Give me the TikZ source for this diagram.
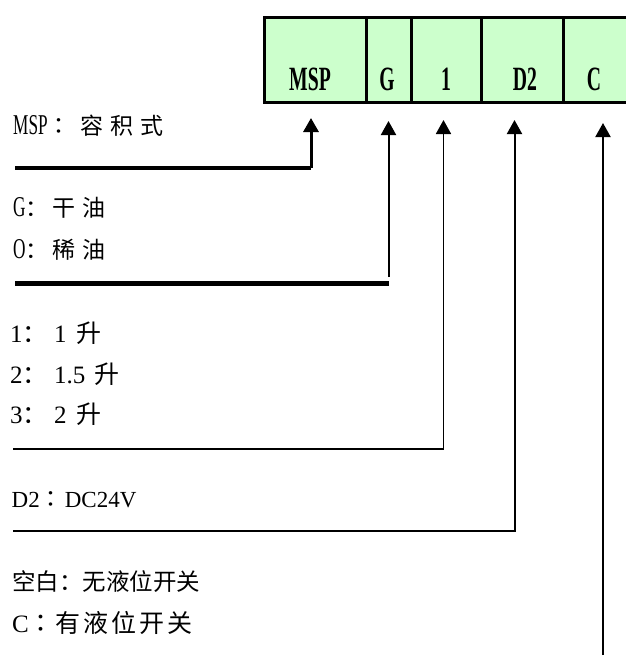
\documentclass[tikz,border=0pt]{standalone}
\usepackage{fontspec}
\usepackage{graphicx}
\setmainfont{Liberation Serif}
\newfontfamily\cjk{Noto Sans CJK SC}
\newfontfamily\cjktc{Noto Sans CJK TC}
\newfontfamily\cjksp[LetterSpace=30]{Noto Sans CJK SC}
\newfontfamily\cjkc[LetterSpace=12]{Noto Sans CJK SC}
\usetikzlibrary{arrows.meta}
\definecolor{boxgreen}{HTML}{CCFFCC}
\newcommand{\narrowlat}[1]{\scalebox{0.6}[1]{\fontsize{28.7}{32}\selectfont #1}}
\newcommand{\boxtxt}[1]{\scalebox{0.58}[1]{\bfseries\fontsize{34}{37}\selectfont #1}}
\begin{document}
\begin{tikzpicture}[x=1pt,y=-1pt,
  cell/.style={draw=black,line width=2.5pt,fill=boxgreen,minimum height=85pt,inner sep=0pt,anchor=north west},
  celltext/.style={anchor=base,inner sep=0pt},
  txt/.style={anchor=base west,inner sep=0pt},
  tip/.style={-{Triangle[length=14pt,width=15pt]}},
  heavy/.style={line width=4.5pt},
  thin/.style={line width=1.8pt}]
\useasboundingbox (0,0) rectangle (626,657);
% code box
\node[cell,minimum width=102pt] (cm) at (263,16) {};
\node[cell,minimum width=45pt] (cg) at (365,16) {};
\node[cell,minimum width=70pt] (c1) at (410,16) {};
\node[cell,minimum width=82pt] (cd) at (480,16) {};
\node[cell,minimum width=80pt] (cc) at (562,16) {};
\node[celltext] (tm) at (310,90) {\boxtxt{MSP}};
\node[celltext] (tg) at (387,90) {\boxtxt{G}};
\node[celltext] (t1) at (446,90) {\boxtxt{1}};
\node[celltext] (td) at (525,90) {\boxtxt{D2}};
\node[celltext] (tc) at (594,90) {\boxtxt{C}};
% texts
\node[txt] (lm) at (13,134) {\narrowlat{MSP}{\fontsize{23}{26}\selectfont{\cjktc ：}\hspace{10pt}{\cjksp 容积式}}};
\node[txt] (lg) at (13,216) {\narrowlat{G}{\cjksp\fontsize{23}{26}\selectfont ：\hspace{4pt}干油}};
\node[txt] (lo) at (13,258) {\narrowlat{O}{\cjksp\fontsize{23}{26}\selectfont ：\hspace{4pt}稀油}};
\node[txt] (l1) at (10,342) {\fontsize{25}{28}\selectfont 1{\cjk ：}\hspace{6.5pt}1\hspace{9.5pt}{\cjk 升}};
\node[txt] (l2) at (10,383) {\fontsize{25}{28}\selectfont 2{\cjk ：}\hspace{6.5pt}1.5\hspace{9.5pt}{\cjk 升}};
\node[txt] (l3) at (10,423) {\fontsize{25}{28}\selectfont 3{\cjk ：}\hspace{6.5pt}2\hspace{9.5pt}{\cjk 升}};
\node[txt] (ld) at (11.5,507) {\fontsize{23}{26}\selectfont D2{\cjktc ：}\hspace{2pt}DC24V};
\node[txt] (lk) at (12,590) {\cjk\fontsize{23.5}{26}\selectfont 空白：无液位开关};
\node[txt] (lc) at (12,632) {\fontsize{25}{28}\selectfont C{\cjktc ：}\hspace{2pt}{\cjkc 有液位开关}};
% connectors
\coordinate (a0) at (15,168);
\coordinate (a1) at (311,168);
\coordinate (aT) at (311,118);
\coordinate (b0) at (15,283.5);
\coordinate (b1) at (389,283.5);
\coordinate (bB) at (388.5,277);
\coordinate (bT) at (388.5,121);
\coordinate (c0) at (13,449);
\coordinate (cT) at (443.5,120);
\coordinate (d0) at (13,531);
\coordinate (dT) at (514.5,120);
\coordinate (e0) at (603,655);
\coordinate (eT) at (603,123);
\draw[heavy] (a0) -- (a1);
\draw[tip,line width=3pt] (a1) -- (aT);
\draw[heavy] (b0) -- (b1);
\draw[tip,line width=2pt] (bB) -- (bT);
\draw[tip,thin] (c0) -| (cT);
\draw[tip,line width=2pt] (d0) -| (dT);
\draw[tip,line width=2pt] (e0) -- (eT);
\end{tikzpicture}
\end{document}
